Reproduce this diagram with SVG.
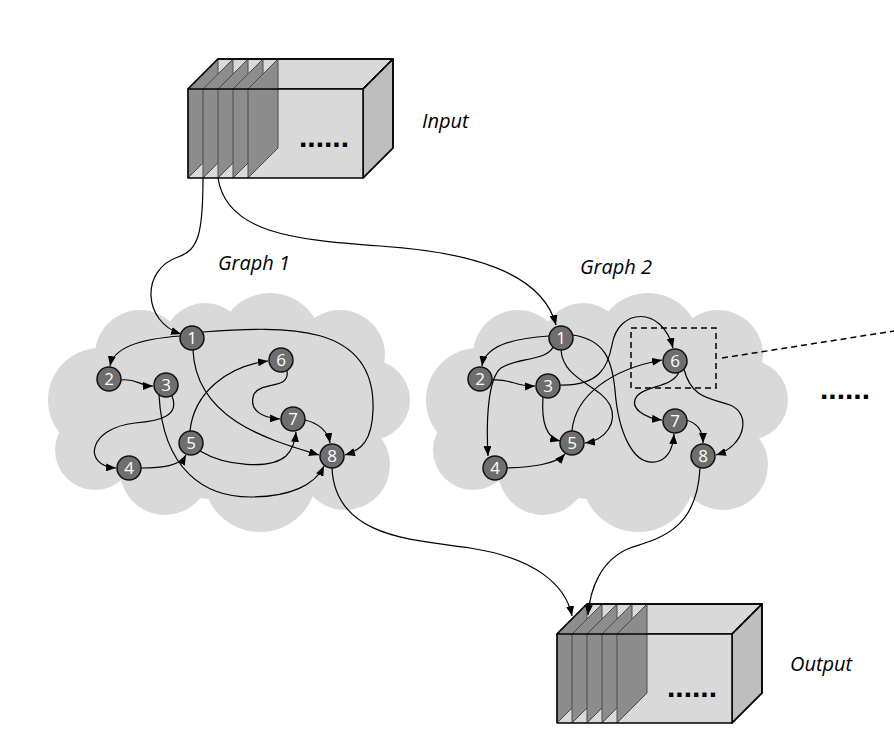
<svg xmlns="http://www.w3.org/2000/svg" width="894" height="738" viewBox="0 0 894 738">
<defs>
<style>
.face{fill:#d9d9d9;stroke:#000;stroke-width:1.5;stroke-linejoin:round}
.side{fill:#bdbdbd;stroke:#000;stroke-width:1.5;stroke-linejoin:round}
.outline{fill:none;stroke:#000;stroke-width:1.5;stroke-linejoin:round}
.slice{fill:#8c8c8c;stroke:#4a4a4a;stroke-width:1}
.cloud{fill:#d9d9d9}
.node circle{fill:#6e6e6e;stroke:#111;stroke-width:1.5}
.node text{fill:#fff;font-family:"Open Sans","DejaVu Sans",sans-serif;font-size:17px;text-anchor:middle}
.edge{fill:none;stroke:#000;stroke-width:1.2;marker-end:url(#ah)}
.lbl{font-family:"Open Sans","DejaVu Sans",sans-serif;font-style:italic;font-size:20px;fill:#000}
.dots{font-family:"Liberation Sans",Arial,sans-serif;font-size:30px;font-weight:bold;fill:#000}
.dash{fill:none;stroke:#000;stroke-width:1.5;stroke-dasharray:6,4}
</style>
<marker id="ah" viewBox="0 0 10 8" refX="10" refY="4" markerWidth="10" markerHeight="8" markerUnits="userSpaceOnUse" orient="auto"><path d="M0,0 L10,4 L0,8 z" fill="#000"/></marker>
<g id="cloudshape">
<circle cx="100" cy="400" r="52"/>
<circle cx="140" cy="355" r="45"/>
<circle cx="205" cy="345" r="42"/>
<circle cx="270" cy="345" r="52"/>
<circle cx="340" cy="355" r="45"/>
<circle cx="370" cy="400" r="40"/>
<circle cx="345" cy="465" r="45"/>
<circle cx="260" cy="475" r="57"/>
<circle cx="165" cy="470" r="45"/>
<circle cx="95" cy="450" r="40"/>
<ellipse cx="230" cy="415" rx="150" ry="85"/>
</g>
</defs>
<rect width="894" height="738" fill="#fff"/>

<g id="cloud1" class="cloud"><use href="#cloudshape"/></g>
<g id="cloud2" class="cloud"><use href="#cloudshape" transform="translate(378,0)"/></g>

<g id="input-box">
<polygon class="face" points="188,89 218,59 393,59 363,89"/>
<polygon class="side" points="363,89 393,59 393,148 363,178"/>
<rect x="188" y="89" width="175" height="89" fill="#d9d9d9"/>
<polygon class="slice" points="188,89 218,59 218,148 188,178"/>
<polygon class="slice" points="203,89 233,59 233,148 203,178"/>
<polygon class="slice" points="218,89 248,59 248,148 218,178"/>
<polygon class="slice" points="233,89 263,59 263,148 233,178"/>
<polygon class="slice" points="248,89 278,59 278,148 248,178"/>
<rect class="outline" x="188" y="89" width="175" height="89"/>
<polyline class="outline" points="188,89 218,59 393,59 393,148 363,178"/>
<line class="outline" x1="363" y1="89" x2="393" y2="59"/>
<text class="dots" x="299" y="147">......</text>
</g>

<g id="output-box">
<polygon class="face" points="557,634 587,604 762,604 732,634"/>
<polygon class="side" points="732,634 762,604 762,693 732,723"/>
<rect x="557" y="634" width="175" height="89" fill="#d9d9d9"/>
<polygon class="slice" points="557,634 587,604 587,693 557,723"/>
<polygon class="slice" points="572,634 602,604 602,693 572,723"/>
<polygon class="slice" points="587,634 617,604 617,693 587,723"/>
<polygon class="slice" points="602,634 632,604 632,693 602,723"/>
<polygon class="slice" points="617,634 647,604 647,693 617,723"/>
<rect class="outline" x="557" y="634" width="175" height="89"/>
<polyline class="outline" points="557,634 587,604 762,604 762,693 732,723"/>
<line class="outline" x1="732" y1="634" x2="762" y2="604"/>
<text class="dots" x="667" y="697">......</text>
</g>

<g id="labels">
<text class="lbl" x="422" y="128">Input</text>
<text class="lbl" x="790" y="671">Output</text>
<text class="lbl" x="218" y="270">Graph 1</text>
<text class="lbl" x="580" y="274">Graph 2</text>
<text class="dots" x="820" y="399">......</text>
</g>

<g id="connectors">
<path class="edge" d="M203,178 C203,235 198,250 178,257 C140,270 143,322 181,334"/>
<path class="edge" d="M218,178 C226,232 292,240 380,246 C470,252 542,272 556,325"/>
<path class="edge" d="M332,468 C335,540 420,540 470,548 C535,558 566,585 572,616"/>
<path class="edge" d="M700,468 C697,530 660,538 630,548 C600,560 590,590 588,615"/>
<!-- graph 1 -->
<path class="edge" d="M181,336 C150,338 114,345 110,366"/>
<path class="edge" d="M121,380 C136,378 140,386 153,386"/>
<path class="edge" d="M172,396 C180,416 160,421 135,423 C88,428 82,466 116,468"/>
<path class="edge" d="M159,395 C163,470 205,497 250,497 C290,497 315,485 324,466"/>
<path class="edge" d="M141,468 C162,468 180,466 186,455"/>
<path class="edge" d="M190,431 C194,392 228,366 268,361"/>
<path class="edge" d="M200,451 C225,466 270,470 286,456 C292,450 295,443 296,432"/>
<path class="edge" d="M193,350 C196,420 270,440 319,455"/>
<path class="edge" d="M203,332 C285,326 376,322 373,410 C372,440 362,450 345,455"/>
<path class="edge" d="M287,371 C290,390 262,381 254,394 C248,410 262,418 280,419"/>
<path class="edge" d="M305,420 C318,423 328,431 330,443"/>
<!-- graph 2 -->
<path class="edge" d="M549,336 C515,338 485,345 482,366"/>
<path class="edge" d="M553,347 C547,361 515,358 501,368 C488,378 486,420 488,456"/>
<path class="edge" d="M492,380 C510,378 516,387 535,386"/>
<path class="edge" d="M543,397 C541,425 548,438 560,441"/>
<path class="edge" d="M561,350 C563,380 600,385 610,405 C618,422 606,440 585,443"/>
<path class="edge" d="M560,385 C600,386 608,366 612,345 C618,308 662,305 673,348"/>
<path class="edge" d="M572,431 C575,395 612,369 662,360"/>
<path class="edge" d="M573,335 C605,340 612,360 615,390 C618,430 632,465 655,462 C668,460 673,448 674,434"/>
<path class="edge" d="M507,468 C530,467 555,465 565,454"/>
<path class="edge" d="M679,372 C672,388 646,385 637,396 C628,408 645,418 662,420"/>
<path class="edge" d="M684,369 C691,398 710,398 730,405 C752,414 745,446 716,455"/>
<path class="edge" d="M686,420 C697,423 703,431 703,443"/>
<rect class="dash" x="631" y="328" width="85" height="60"/>
<line class="dash" x1="722" y1="358" x2="894" y2="331"/>
</g>

<g id="g1-n1" class="node"><circle cx="192" cy="338" r="12"/><text x="192" y="344">1</text></g>
<g id="g1-n2" class="node"><circle cx="109" cy="379" r="12"/><text x="109" y="385">2</text></g>
<g id="g1-n3" class="node"><circle cx="166" cy="385" r="12"/><text x="166" y="391">3</text></g>
<g id="g1-n4" class="node"><circle cx="129" cy="468" r="12"/><text x="129" y="474">4</text></g>
<g id="g1-n5" class="node"><circle cx="191" cy="443" r="12"/><text x="191" y="449">5</text></g>
<g id="g1-n6" class="node"><circle cx="281" cy="360" r="12"/><text x="281" y="366">6</text></g>
<g id="g1-n7" class="node"><circle cx="293" cy="419" r="12"/><text x="293" y="425">7</text></g>
<g id="g1-n8" class="node"><circle cx="332" cy="456" r="12"/><text x="332" y="462">8</text></g>

<g id="g2-n1" class="node"><circle cx="561" cy="338" r="12"/><text x="561" y="344">1</text></g>
<g id="g2-n2" class="node"><circle cx="480" cy="379" r="12"/><text x="480" y="385">2</text></g>
<g id="g2-n3" class="node"><circle cx="548" cy="386" r="12"/><text x="548" y="392">3</text></g>
<g id="g2-n4" class="node"><circle cx="495" cy="468" r="12"/><text x="495" y="474">4</text></g>
<g id="g2-n5" class="node"><circle cx="572" cy="443" r="12"/><text x="572" y="449">5</text></g>
<g id="g2-n6" class="node"><circle cx="675" cy="361" r="12"/><text x="675" y="367">6</text></g>
<g id="g2-n7" class="node"><circle cx="675" cy="421" r="12"/><text x="675" y="427">7</text></g>
<g id="g2-n8" class="node"><circle cx="703" cy="456" r="12"/><text x="703" y="462">8</text></g>
</svg>
